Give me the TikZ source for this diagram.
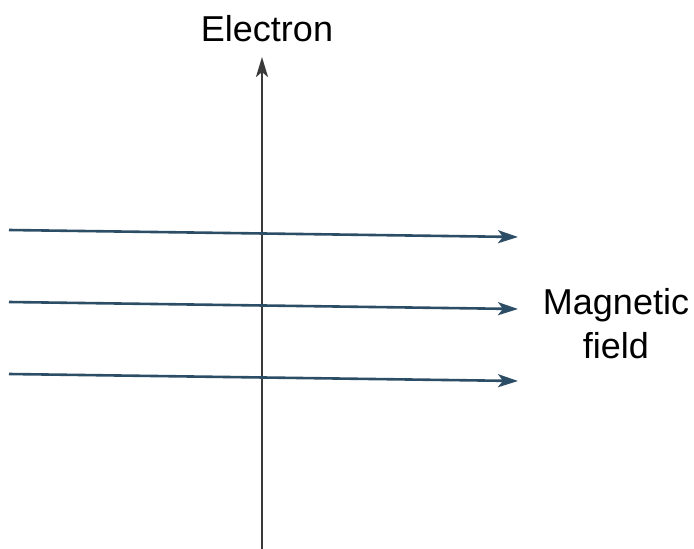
\documentclass[tikz,border=0pt]{standalone}
\usepackage{fontspec}
\setmainfont{Liberation Sans}
\usetikzlibrary{arrows.meta}
\definecolor{fieldblue}{HTML}{2C4D66}
\definecolor{axisgray}{HTML}{3A3A3A}
\tikzset{
  fieldline/.style={draw=fieldblue, line width=2.6pt, -{Stealth[length=20pt,width=13pt,inset=5pt]}},
  axisline/.style={draw=axisgray, line width=2.6pt, -{Stealth[length=20pt,width=12pt,inset=5pt]}},
  label/.style={font=\fontsize{36}{44}\selectfont, inner sep=0pt, align=center}
}
\begin{document}
\begin{tikzpicture}[x=1pt,y=-1pt]
\useasboundingbox (0,0) rectangle (694,549);
\coordinate (eb) at (262,549);
\coordinate (et) at (262,57);
\draw[axisline] (eb) -- (et);
\node[label] (electron) at (267,29) {Electron};
\coordinate (a1) at (9,230);
\coordinate (b1) at (518,237);
\coordinate (a2) at (9,302);
\coordinate (b2) at (518,309);
\coordinate (a3) at (9,374);
\coordinate (b3) at (518,381);
\draw[fieldline] (a1) -- (b1);
\draw[fieldline] (a2) -- (b2);
\draw[fieldline] (a3) -- (b3);
\node[label] (field) at (616,324) {Magnetic\\field};
\end{tikzpicture}
\end{document}
